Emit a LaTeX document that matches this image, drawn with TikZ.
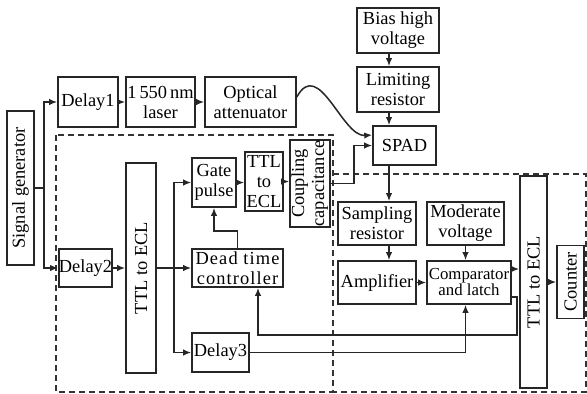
\documentclass[tikz,border=0pt]{standalone}
\usepackage{fontspec}
\setmainfont{Liberation Serif}
\usepackage{graphicx}
\usetikzlibrary{arrows.meta,calc,positioning}
\tikzset{
  signal/.style={-{Latex[length=4pt,width=3.2pt]}, line width=0.75pt, draw=black!85},
  block/.style={draw=black!85, line width=0.8pt, rectangle, inner sep=0pt, align=center, font=\fontsize{9.2}{10}\selectfont},
  frame/.style={draw=black!80, line width=0.6pt, dash pattern=on 3pt off 2pt}
}

\begin{document}
\begin{tikzpicture}[x=0.5pt,y=-0.5pt]
  \useasboundingbox (0,0) rectangle (587,393);
  % the two dashed circuit boards share the edge at x=333
  \draw[frame] (56,135) rectangle (333,392);
  \draw[frame] (333,174) -- (586,174) -- (586,392) -- (333,392);

  \node[block, minimum width=13.5pt, minimum height=77pt] (sg) at (20.5,188) {\rotatebox{90}{Signal generator}};
  \node[block, minimum width=30pt, minimum height=25pt] (d1) at (88,102) {Delay1};
  \node[block, minimum width=34.5pt, minimum height=25pt] (laser) at (160.5,102) {1\,550\,nm\\laser};
  \node[block, minimum width=45.5pt, minimum height=25pt] (att) at (250.5,102) {Optical\\attenuator};
  \node[block, minimum width=41pt, minimum height=22.5pt] (bias) at (398,30.5) {Bias high\\voltage};
  \node[block, minimum width=41pt, minimum height=22.5pt] (lim) at (398,89.5) {Limiting\\resistor};
  \node[block, minimum width=31.5pt, minimum height=19.5pt] (spad) at (404.5,145.5) {SPAD};
  \node[block, minimum width=15pt, minimum height=105pt] (ttla) at (141,268) {\rotatebox{90}{TTL to ECL}};
  \node[block, minimum width=26.5pt, minimum height=19pt] (d2) at (85.5,268) {Delay2};
  \node[block, minimum width=22pt, minimum height=24.5pt] (gate) at (214,182.5) {Gate\\pulse};
  \node[block, minimum width=19pt, minimum height=29.5pt] (ttlb) at (264,181.5) {TTL\\to\\ECL};
  \node[block, minimum width=19pt, minimum height=43.5pt] (cc) at (310,183.5)
    {\rotatebox{90}{\begin{tabular}{@{}c@{}}Coupling\\capacitance\end{tabular}}};
  \node[block, minimum width=45.5pt, minimum height=19pt,
        font=\fontsize{9.2}{10}\selectfont\addfontfeatures{LetterSpace=6}] (dtc) at (237.5,268) {Dead time\\controller};
  \node[block, minimum width=28.5pt, minimum height=19.5pt] (d3) at (220.5,352.5) {Delay3};
  \node[block, minimum width=39pt, minimum height=21.5pt] (samp) at (377,223.5) {Sampling\\resistor};
  \node[block, minimum width=38.5pt, minimum height=21.5pt] (mod) at (465.5,223.5) {Moderate\\voltage};
  \node[block, minimum width=39pt, minimum height=21.5pt] (amp) at (377,282.5) {Amplifier};
  \node[block, minimum width=42pt, minimum height=21.5pt, font=\fontsize{8.4}{8}\selectfont] (comp) at (469,282.5) {Comparator\\and latch};
  \node[block, minimum width=13.5pt, minimum height=106pt] (ttlc) at (533.5,282) {\rotatebox{90}{TTL to ECL}};
  \node[block, minimum width=13.5pt, minimum height=36.5pt] (counter) at (570.5,282) {\rotatebox{90}{Counter}};

  \coordinate (axis) at (389,0);

  % optical path
  \draw[signal] (sg.east) -- ++(9,0) coordinate (fork) |- (d1.west);
  \draw[signal] (fork) |- (d2.west);
  \draw[signal] (d1) -- (laser);
  \draw[signal] (laser) -- (att);
  \draw[signal] ([yshift=2.5pt]att.east) .. controls +(22,-40) and +(-30,2) .. ([yshift=5.25pt]spad.west);

  % bias and detection chain
  \draw[signal] (bias.south -| axis) -- (lim.north -| axis);
  \draw[signal] (lim.south -| axis) -- (spad.north -| axis);
  \draw[signal] (spad.south -| axis) -- (samp.north -| axis);
  \draw[signal] (samp.south -| axis) -- (amp.north -| axis);
  \draw[signal] (mod.south) -- (comp.north -| mod.south);
  \draw[signal] (amp.east) -- (comp.west);
  \draw[signal] ($(comp.east)+(0,-13.5)$) coordinate (cout) -- (cout -| ttlc.west);
  \draw[signal] (ttlc.east) -- (counter.west);
  \draw[signal] ($(comp.east)+(0,14.5)$) -- ++(5,0) -- ++(0,38) -| ($(dtc.south)+(20.5,0)$);

  % gating electronics
  \draw[signal] (d2) -- (ttla);
  \draw[signal] (ttla.east) -- (dtc.west);
  \path (ttla.east) -- ++(17,0) coordinate (split);
  \draw[signal] (split) |- (gate.west);
  \draw[signal] (split) |- (d3.west);
  \draw[signal] (d3.east) -| (comp.south -| mod.south);
  \draw[signal] (dtc.north) -- ++(0,-17) -| (gate.south);
  \draw[signal] (gate.east) -- (gate.east -| ttlb.west);
  \draw[signal] (ttlb.east) -- (ttlb.east -| cc.west);
  \draw[signal] (cc.east) -- ++(23,0) |- (spad.west);
\end{tikzpicture}
\end{document}
